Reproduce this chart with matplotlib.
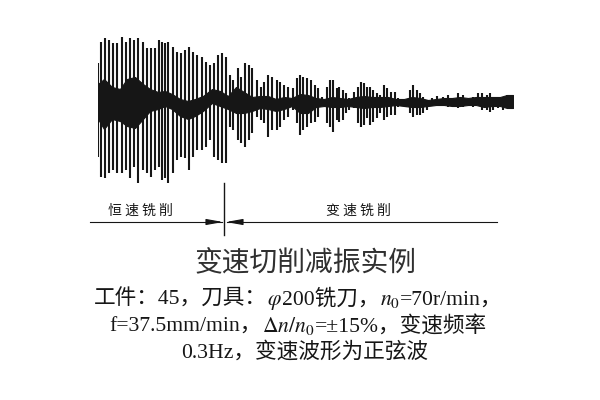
import matplotlib
matplotlib.use("Agg")
import matplotlib.pyplot as plt
from matplotlib.offsetbox import TextArea, HPacker, AnchoredOffsetbox

plt.rcParams["mathtext.fontset"] = "stix"

# spike time (px-like units) and upper / lower peak amplitude
spike_t = [0, 3, 7, 11, 15, 19, 24, 28, 32, 36, 40, 45, 49, 53, 57, 61,
           64, 67, 70, 75, 79, 83, 87, 91, 95, 99, 104, 108, 112, 116, 120, 124,
           128, 132, 135, 140, 143, 147, 151, 154, 159, 163, 166, 170, 174, 179,
           182, 186, 190, 195,
           199, 202, 205, 209, 213, 217, 220, 224, 229, 232, 235, 239, 241, 245,
           248, 251, 256, 260, 263, 266, 269,
           272, 275, 279, 282, 286, 289, 293, 297, 300, 308, 312, 315, 319, 322,
           325, 329, 334, 339,
           345, 350, 355, 360, 365, 370, 375, 380, 384, 389, 392, 395, 400, 405,
           409, 412, 414]
spike_hi = [37, 58, 62, 60, 57, 57, 63, 58, 62, 60, 62, 58, 52, 52, 52, 60,
            58, 57, 58, 53, 48, 47, 50, 53, 48, 45, 43, 38, 35, 37, 45, 47,
            43, 25, 20, 32, 23, 37, 35, 32, 20, 13, 18, 25, 23, 20,
            18, 15, 13, 12,
            22, 25, 23, 22, 20, 15, 12, 3, 13, 20, 20, 12, 13, 10,
            7, 2, 8, 13, 18, 17, 13,
            13, 10, 7, 5, 15, 12, 8, 8, 2, -2, 10, 15, 10, 7,
            3, 0, 2, 4,
            3, 5, 2, 7, 5, 0, 3, 7, 7, 5, 7, 2, 2, 3,
            5, 5, 5]
spike_lo = [-57, -77, -78, -73, -70, -73, -73, -70, -78, -67, -83, -70, -73, -77, -70, -67,
            -80, -78, -83, -73, -60, -57, -58, -70, -57, -50, -50, -47, -40, -57, -60, -63,
            -63, -27, -30, -40, -43, -47, -40, -33, -17, -20, -23, -37, -30, -30,
            -27, -20, -17, -10,
            -23, -35, -30, -27, -23, -22, -17, -5, -23, -27, -32, -20, -22, -20,
            -13, -10, -8, -23, -27, -25, -18,
            -25, -22, -18, -13, -20, -17, -15, -15, -7, -7, -13, -17, -15, -15,
            -13, -10, -6, -4,
            -5, -7, -7, -8, -7, -5, -7, -5, -10, -10, -12, -10, -8, -10,
            -8, -7, -8]

# thick central band of the trace
band_t = [0, 6, 14, 22, 29, 37, 45, 52, 60, 67, 74, 82, 90, 97, 105, 114, 122,
          130, 138, 146, 154, 162, 170, 178, 186, 194, 202, 210, 218, 226, 234,
          242, 250, 258, 266, 274, 282, 290, 298, 306, 314, 322, 330, 338, 346,
          354, 362, 370, 378, 386, 394, 402, 409, 415]
band_hi = [16, 21, 13, 11, 21, 23, 16, 11, 8, 9, 6, 1, -1, 1, 4, 11, 9,
           4, 13, 8, 3, 4, 4, 1, 3, 2, 6, 5, 2, 1, 3,
           2, 1, 3, 4, 3, 3, 3, 1, 1, 3, 2, 0, 1, 2,
           2, 3, 2, 3, 3, 3, 3, 5, 5]
band_lo = [-19, -29, -19, -21, -26, -28, -19, -11, -9, -6, -9, -16, -19, -16, -11, -3, -6,
           -9, -13, -13, -11, -8, -9, -11, -9, -6, -13, -13, -7, -6, -7,
           -7, -6, -7, -8, -7, -7, -6, -5, -6, -7, -7, -6, -5, -5,
           -6, -6, -5, -5, -7, -6, -6, -8, -8]

change_t = 126          # switch from constant to variable speed
label_left = "恒 速 铣 削"
label_right = "变 速 铣 削"
title = "变速切削减振实例"

ink = "#161616"
cjk = ["Noto Sans CJK SC", "DejaVu Sans"]
mixed = dict(family=["Liberation Serif", "Noto Sans CJK SC"], size=15.6, color=ink)
math = dict(size=15.6, color=ink)

caption = [
    [("工件：45，刀具：", mixed), (r"$\varphi$", math), ("200铣刀，", mixed),
     (r"$n_0$", math), ("=70r/min，", mixed)],
    [("f=37.5mm/min，", mixed), (r"$\Delta n/n_0$", math), ("=±15%，变速频率", mixed)],
    [("0.3Hz，变速波形为正弦波", mixed)],
]
caption_x = [0.497, 0.497, 0.508]
caption_y = [0.25, 0.186, 0.12]

fig = plt.figure(figsize=(6, 4), dpi=100)
ax = fig.add_axes([98 / 600, 0.525, 415 / 600, 0.4])
ax.set_xlim(0, 415)
ax.set_ylim(-90, 70)
ax.axis("off")

ax.fill_between(band_t, band_lo, band_hi, color=ink, lw=0.8)
ax.vlines(spike_t, spike_lo, spike_hi, color=ink, lw=1.5)

# phase marker with arrows
y_arr = -122
ax.plot([-8, change_t - 2], [y_arr, y_arr], color=ink, lw=0.8, clip_on=False)
ax.plot([change_t + 3, 399], [y_arr, y_arr], color=ink, lw=0.8, clip_on=False)
ax.plot([change_t, change_t], [-83, -135], color=ink, lw=1.0, clip_on=False)
arrow = dict(arrowstyle="-|>,head_length=1.0,head_width=0.18", color=ink,
             lw=0.8, mutation_scale=10, shrinkA=0, shrinkB=0)
ax.annotate("", xy=(change_t - 1, y_arr), xytext=(change_t - 16, y_arr),
            arrowprops=arrow, annotation_clip=False)
ax.annotate("", xy=(change_t + 2, y_arr), xytext=(change_t + 17, y_arr),
            arrowprops=arrow, annotation_clip=False)
ax.text(42, -111, label_left, ha="center", va="center", family=cjk,
        size=10, color=ink, clip_on=False)
ax.text(260, -111, label_right, ha="center", va="center", family=cjk,
        size=10, color=ink, clip_on=False)

fig.text(306 / 600, 1 - 263 / 400, title, ha="center", va="center", family=cjk,
         size=20, color="#303030")

for segs, x, y in zip(caption, caption_x, caption_y):
    boxes = [TextArea(s, textprops=p) for s, p in segs]
    row = HPacker(children=boxes, align="baseline", pad=0, sep=0)
    box = AnchoredOffsetbox(loc="center", child=row, pad=0, borderpad=0,
                            frameon=False, bbox_to_anchor=(x, y),
                            bbox_transform=fig.transFigure)
    fig.add_artist(box)

fig.savefig("out.png", dpi=100, facecolor="white")
